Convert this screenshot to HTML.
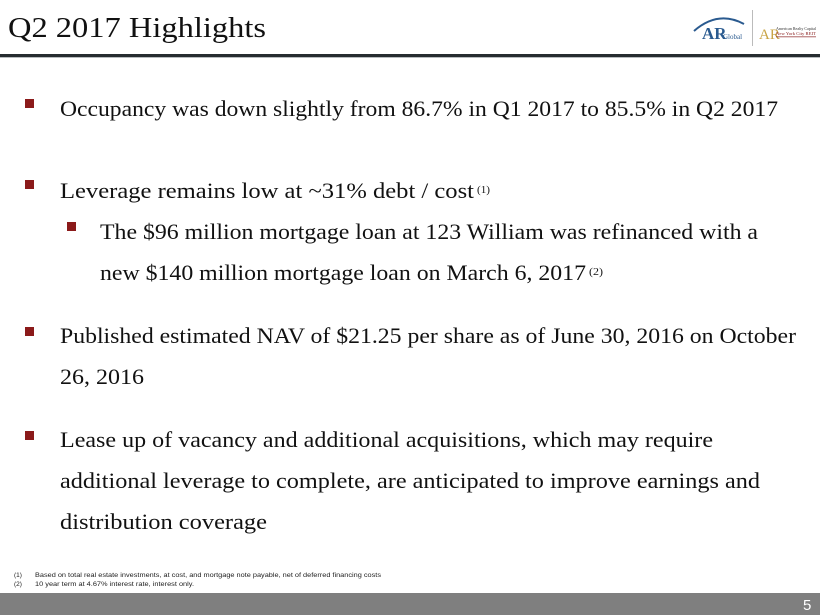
<!DOCTYPE html>
<html><head><meta charset="utf-8"><style>
html,body{margin:0;padding:0;background:#fff;}
svg{display:block;}
.t{font-family:"Liberation Serif",serif;fill:#111;}
.s{font-family:"Liberation Sans",sans-serif;fill:#222;}
</style></head><body>
<svg width="820" height="615" viewBox="0 0 820 615" xmlns="http://www.w3.org/2000/svg">
<rect width="820" height="615" fill="#fff"/>
<!-- title -->
<text class="t" x="8" y="37" font-size="29" textLength="258" lengthAdjust="spacingAndGlyphs">Q2 2017 Highlights</text>
<rect x="0" y="54" width="820" height="3" fill="#262c30"/>
<rect x="0" y="57" width="820" height="1" fill="#b8bcbf"/>
<!-- logo -->
<path d="M694 31 Q718 10 744 24" fill="none" stroke="#2a5a8f" stroke-width="2"/>
<text x="702" y="39" font-family="Liberation Serif,serif" font-size="17" font-weight="bold" fill="#2a5a8f">AR</text>
<text x="723" y="39" font-family="Liberation Serif,serif" font-size="7" fill="#2a5a8f">Global</text>
<rect x="752" y="10" width="1" height="36" fill="#bbb"/>
<text x="759" y="39" font-family="Liberation Serif,serif" font-size="15" fill="#c9a445">AR</text>
<text x="776" y="30" font-family="Liberation Serif,serif" font-size="4.5" fill="#333" textLength="40" lengthAdjust="spacingAndGlyphs">American Realty Capital</text>
<text x="776" y="35" font-family="Liberation Serif,serif" font-size="4.5" fill="#8b2020" textLength="40" lengthAdjust="spacingAndGlyphs">New York City REIT</text>
<rect x="776" y="36.5" width="40" height="0.7" fill="#8b2020"/>
<!-- bullets -->
<rect x="25" y="99" width="9" height="9" fill="#8b1a1a"/>
<rect x="25" y="180" width="9" height="9" fill="#8b1a1a"/>
<rect x="67" y="222" width="9" height="9" fill="#8b1a1a"/>
<rect x="25" y="327" width="9" height="9" fill="#8b1a1a"/>
<rect x="25" y="431" width="9" height="9" fill="#8b1a1a"/>
<!-- body text -->
<text class="t" x="60" y="116" font-size="22" textLength="718" lengthAdjust="spacingAndGlyphs">Occupancy was down slightly from 86.7% in Q1 2017 to 85.5% in Q2 2017</text>
<text class="t" x="60" y="198" font-size="22" textLength="414" lengthAdjust="spacingAndGlyphs">Leverage remains low at ~31% debt / cost</text>
<text class="t" x="477" y="193" font-size="10" textLength="13" lengthAdjust="spacingAndGlyphs">(1)</text>
<text class="t" x="100" y="239" font-size="22" textLength="658" lengthAdjust="spacingAndGlyphs">The $96 million mortgage loan at 123 William was refinanced with a</text>
<text class="t" x="100" y="280" font-size="22" textLength="486" lengthAdjust="spacingAndGlyphs">new $140 million mortgage loan on March 6, 2017</text>
<text class="t" x="589" y="275" font-size="10" textLength="14" lengthAdjust="spacingAndGlyphs">(2)</text>
<text class="t" x="60" y="343" font-size="22" textLength="736" lengthAdjust="spacingAndGlyphs">Published estimated NAV of $21.25 per share as of June 30, 2016 on October</text>
<text class="t" x="60" y="384" font-size="22" textLength="84" lengthAdjust="spacingAndGlyphs">26, 2016</text>
<text class="t" x="60" y="447" font-size="22" textLength="653" lengthAdjust="spacingAndGlyphs">Lease up of vacancy and additional acquisitions, which may require</text>
<text class="t" x="60" y="488" font-size="22" textLength="700" lengthAdjust="spacingAndGlyphs">additional leverage to complete, are anticipated to improve earnings and</text>
<text class="t" x="60" y="529" font-size="22" textLength="207" lengthAdjust="spacingAndGlyphs">distribution coverage</text>
<!-- footnotes -->
<text class="s" x="14" y="577" font-size="6.5">(1)</text>
<text class="s" x="35" y="577" font-size="6.5" textLength="346" lengthAdjust="spacingAndGlyphs">Based on total real estate investments, at cost, and mortgage  note payable,  net of deferred  financing costs</text>
<text class="s" x="14" y="586" font-size="6.5">(2)</text>
<text class="s" x="35" y="586" font-size="6.5" textLength="159" lengthAdjust="spacingAndGlyphs">10 year term  at 4.67% interest  rate,  interest  only.</text>
<!-- bottom bar -->
<rect x="0" y="593" width="820" height="22" fill="#7f7f7f"/>
<text x="803" y="610" font-family="Liberation Sans,sans-serif" font-size="15" fill="#fff">5</text>
</svg>
</body></html>
